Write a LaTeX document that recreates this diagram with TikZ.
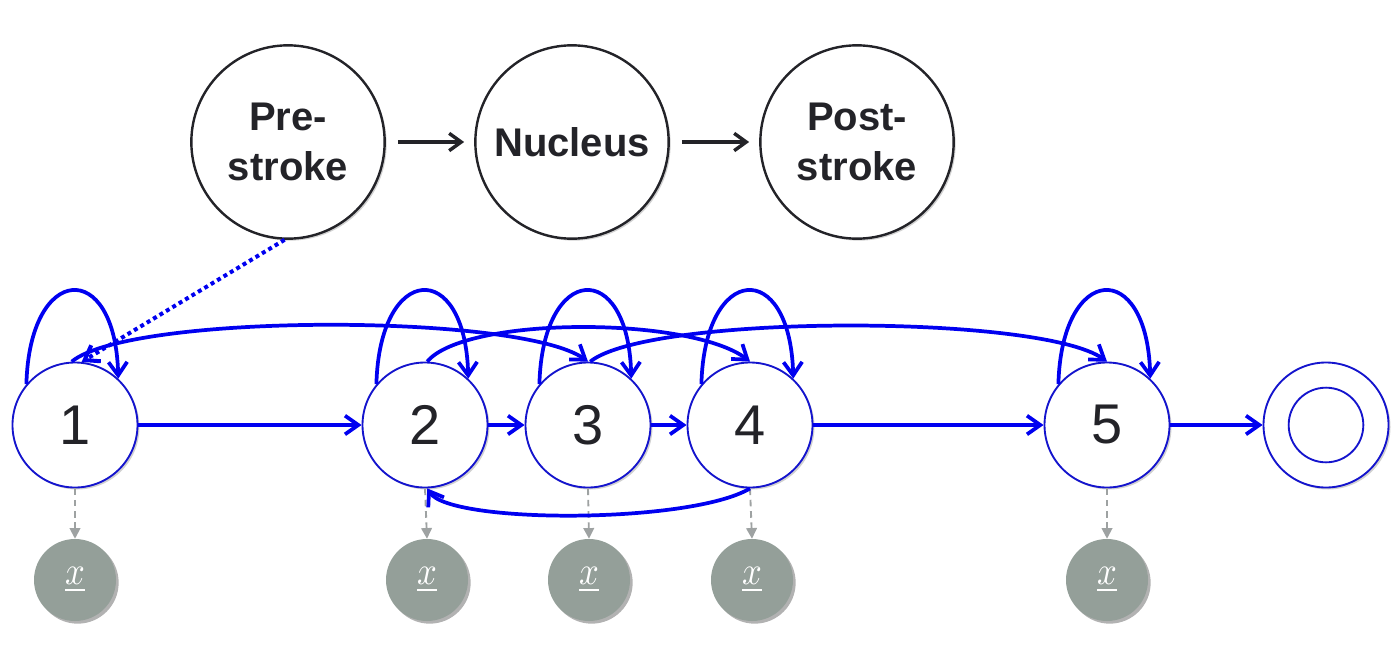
\documentclass[tikz,border=0pt]{standalone}
\usepackage{graphicx}
\usepackage{fontspec}
\setmainfont{Liberation Sans}
\usetikzlibrary{arrows.meta,shadows,calc}
\definecolor{arrblue}{RGB}{0,0,240}
\definecolor{nodeblue}{RGB}{20,20,205}
\definecolor{obsgray}{RGB}{148,159,153}
\definecolor{dashgray}{RGB}{158,162,162}
\definecolor{txt}{RGB}{35,35,40}
\newcommand{\obsx}{\scalebox{2.6}[3.0]{$\underline{x}$}}
\begin{document}
\begin{tikzpicture}[x=0.75pt,y=-0.75pt,
  phase/.style={circle,draw=txt,line width=1.8pt,fill=white,minimum size=145pt,inner sep=0pt,
    align=center,font=\fontsize{30}{37.5}\selectfont\bfseries,text=txt,
    drop shadow={shadow xshift=1.5pt,shadow yshift=-1.5pt,fill=black,opacity=0.18}},
  state/.style={circle,draw=nodeblue,line width=1.4pt,fill=white,minimum size=93.75pt,inner sep=0pt,
    font=\fontsize{42}{42}\selectfont,text=txt,
    drop shadow={shadow xshift=1.5pt,shadow yshift=-1.5pt,fill=black,opacity=0.18}},
  inner/.style={circle,draw=nodeblue,line width=1.4pt,minimum size=56pt,inner sep=0pt},
  obs/.style={circle,fill=obsgray,minimum size=61.5pt,inner sep=0pt,text=white,
    drop shadow={shadow xshift=2pt,shadow yshift=-2pt,fill=black,opacity=0.3}},
  trans/.style={draw=arrblue,line width=2.8pt,-{Straight Barb[length=10pt,width=14pt]}},
  emit/.style={draw=dashgray,line width=1.4pt,dash pattern=on 5pt off 3.5pt,-{Triangle[length=8pt,width=8pt]}},
  phasearr/.style={draw=txt,line width=2.6pt,-{Straight Barb[length=9pt,width=13pt]}},
  dotarr/.style={draw=arrblue,line width=3pt,dash pattern=on 3pt off 2.6pt,-{Straight Barb[length=10pt,width=14pt]}}
]
\useasboundingbox (0,0) rectangle (1400,650);

% phases
\node[phase] (pre)  at (288,142) {Pre-\\stroke};
\node[phase] (nuc)  at (572,142) {Nucleus};
\node[phase] (post) at (857,142) {Post-\\stroke};
\draw[phasearr,shorten <=9pt,shorten >=7.5pt] (pre) -- (nuc);
\draw[phasearr,shorten <=9pt,shorten >=7.5pt] (nuc) -- (post);

% states
\node[state] (s1) at (75,425) {1};
\node[state] (s2) at (425,425) {2};
\node[state] (s3) at (588,425) {3};
\node[state] (s4) at (750,425) {4};
\node[state] (s5) at (1107,425) {5};
\node[state] (fin) at (1326,425) {};
\node[inner] (finin) at (fin) {};

% observations
\node[obs] (o1) at (75,580) {\obsx};
\node[obs] (o2) at (427,580) {\obsx};
\node[obs] (o3) at (589,580) {\obsx};
\node[obs] (o4) at (752,580) {\obsx};
\node[obs] (o5) at (1107,580) {\obsx};
\foreach \i in {1,...,5} \draw[emit] (s\i.south) -- (o\i.north);

% forward transitions
\draw[trans] (s1) -- (s2);
\draw[trans] (s2) -- (s3);
\draw[trans] (s3) -- (s4);
\draw[trans] (s4) -- (s5);
\draw[trans] (s5) -- (fin);

% self loops
\foreach \s in {s1,s2,s3,s4,s5}
  \draw[trans] (\s.140) .. controls ($(\s.140)+(3,-121)$) and ($(\s.47)+(-3,-121)$) .. (\s.47);

% skip transitions
\draw[trans] (s1.93) .. controls (130,313) and (520,313) .. (s3.90);
\draw[trans] (s2.88) .. controls (465,316) and (690,316) .. (s4.90);
\draw[trans] (s3.88) .. controls (650,314) and (1040,314) .. (s5.90);
% back transition
\draw[trans] (s4.270) .. controls (690,524) and (450,524) .. (s2.272);

% dotted mapping
\draw[dotarr] (pre.268) -- (s1.84);
\end{tikzpicture}
\end{document}
